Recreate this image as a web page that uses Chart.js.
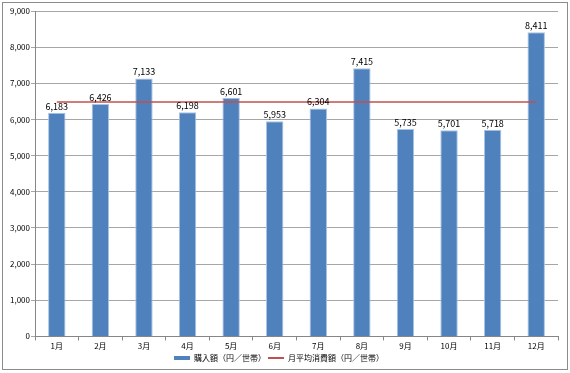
<!DOCTYPE html>
<html>
<head>
<meta charset="utf-8">
<script src="https://cdn.jsdelivr.net/npm/chart.js@4/dist/chart.umd.min.js"></script>
<style>
  html, body { margin: 0; padding: 0; background: #fff; }
  .wrap { position: relative; width: 570px; height: 373px; }
  .frame { position: absolute; left: 2px; top: 2px; width: 564px; height: 366px; border: 1px solid #8c8c8c; pointer-events: none; }
</style>
</head>
<body>
<div class="wrap">
  <canvas id="main_chart" width="570" height="373"></canvas>
  <div class="frame"></div>
</div>
<script>
// chart data
const months = ["1月","2月","3月","4月","5月","6月","7月","8月","9月","10月","11月","12月"];
const purchase = [6183, 6426, 7133, 6198, 6601, 5953, 6304, 7415, 5735, 5701, 5718, 8411];
const monthlyAvg = [6482, 6482, 6482, 6482, 6482, 6482, 6482, 6482, 6482, 6482, 6482, 6482];
const seriesNames = ["購入額（円／世帯）", "月平均消費額（円／世帯）"];

const fontFam = "'Noto Sans CJK JP', 'DejaVu Sans', sans-serif";

// labels over the bars (bar dataset is index 1)
const barLabels = {
    id: "barLabels",
    afterDatasetsDraw(chart) {
        const ctx = chart.ctx;
        const meta = chart.getDatasetMeta(1);
        ctx.save();
        ctx.font = "9px " + fontFam;
        ctx.fillStyle = "#000";
        ctx.textAlign = "center";
        ctx.textBaseline = "bottom";
        meta.data.forEach((bar, i) => {
            ctx.fillText(purchase[i].toLocaleString("en-US"), bar.x, bar.y - 2);
        });
        ctx.restore();
    }
};

let chart1 = new Chart(document.getElementById("main_chart"), {
    data: {
        labels: months,
        datasets: [{
            type: "line",
            label: seriesNames[1],
            data: monthlyAvg,
            borderColor: "#c0504d",
            backgroundColor: "#c0504d",
            borderWidth: 1.5,
            pointRadius: 0,
            order: 0
        }, {
            type: "bar",
            label: seriesNames[0],
            data: purchase,
            backgroundColor: "#4f81bd",
            borderColor: "#a9c4e4",
            borderWidth: { top: 1, left: 1, right: 1, bottom: 0 },
            categoryPercentage: 1,
            barPercentage: 0.4,
            order: 1
        }]
    },
    options: {
        responsive: false,
        animation: false,
        layout: { padding: { top: 11, right: 12, left: 0, bottom: 1 } },
        plugins: {
            tooltip: { enabled: false },
            legend: {
                position: "bottom",
                reverse: true,
                labels: {
                    font: { family: fontFam, size: 8 },
                    color: "#000",
                    padding: 2,
                    boxHeight: 8,
                    usePointStyle: true,
                    pointStyleWidth: 16,
                    generateLabels(chart) {
                        return chart.data.datasets.map((ds, i) => ({
                            text: ds.label,
                            datasetIndex: i,
                            pointStyle: "line",
                            strokeStyle: i === 1 ? "#4f81bd" : "#c0504d",
                            fillStyle: i === 1 ? "#4f81bd" : "#c0504d",
                            lineWidth: i === 1 ? 4 : 2,
                            fontColor: "#000"
                        }));
                    }
                }
            }
        },
        scales: {
            x: {
                offset: true,
                grid: {
                    offset: true,
                    drawOnChartArea: false,
                    tickLength: 4,
                    color: "#868686"
                },
                border: { color: "#868686" },
                ticks: {
                    font: { family: fontFam, size: 8 },
                    color: "#000",
                    padding: 1,
                    maxRotation: 0
                }
            },
            y: {
                min: 0,
                max: 9000,
                afterFit(scale) { scale.width = 35; },
                grid: { color: "#a6a6a6", tickLength: 4 },
                border: { color: "#868686" },
                ticks: {
                    stepSize: 1000,
                    font: { family: fontFam, size: 8 },
                    color: "#000",
                    padding: 1,
                    callback: (v) => v.toLocaleString("en-US")
                }
            }
        }
    },
    plugins: [barLabels]
});
</script>
</body>
</html>
